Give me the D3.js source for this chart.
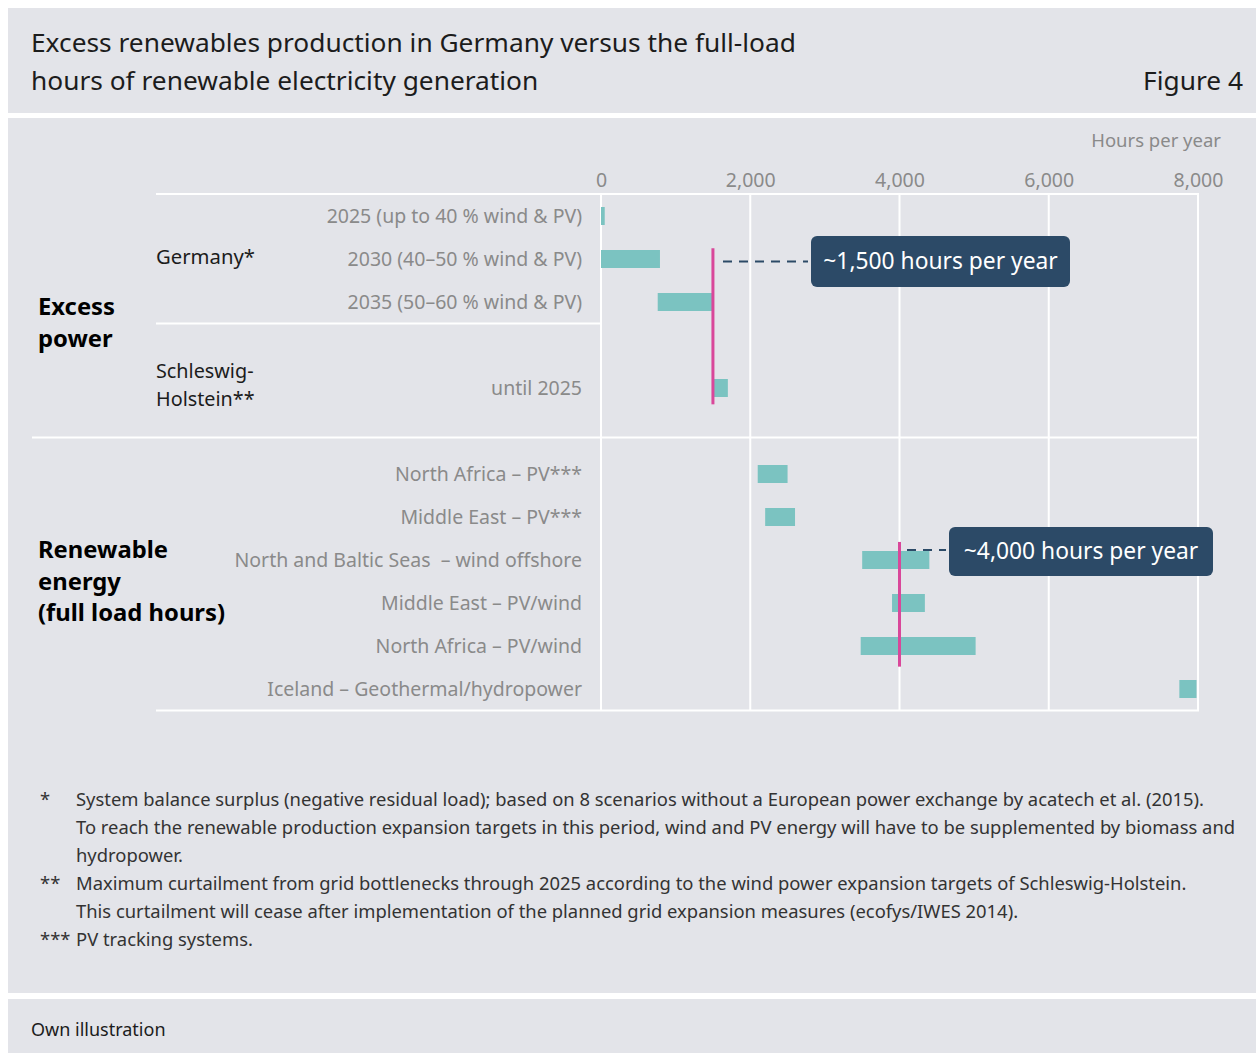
<!DOCTYPE html>
<html>
<head>
<meta charset="utf-8">
<script src="https://cdn.jsdelivr.net/npm/d3@7"></script>
<style>
  body { margin: 0; background: #fff; }
  svg { display: block; font-family: "Noto Sans", Roboto, sans-serif; }
</style>
</head>
<body>
<script>
// data
let rowLabels = [
  '2025 (up to 40 % wind & PV)',
  '2030 (40\u201350 % wind & PV)',
  '2035 (50\u201360 % wind & PV)',
  'until 2025',
  'North Africa \u2013 PV***',
  'Middle East \u2013 PV***',
  'North and Baltic Seas  \u2013 wind offshore',
  'Middle East \u2013 PV/wind',
  'North Africa \u2013 PV/wind',
  'Iceland \u2013 Geothermal/hydropower'
];
let rowSlots = [0, 1, 2, 4, 6, 7, 8, 9, 10, 11];
let barStart = [0, 0, 760, 1500, 2100, 2200, 3500, 3900, 3480, 7750];
let barEnd = [50, 790, 1500, 1700, 2500, 2600, 4400, 4340, 5020, 7980];
let tickValues = [0, 2000, 4000, 6000, 8000];
let markValues = [1500, 4000];
let markLabels = ['~1,500 hours per year', '~4,000 hours per year'];

let footMarks = ['*', '', '', '**', '', '***'];
let footLines = [
  'System balance surplus (negative residual load); based on 8 scenarios without a European power exchange by acatech et al. (2015).',
  'To reach the renewable production expansion targets in this period, wind and PV energy will have to be supplemented by biomass and',
  'hydropower.',
  'Maximum curtailment from grid bottlenecks through 2025 according to the wind power expansion targets of Schleswig-Holstein.',
  'This curtailment will cease after implementation of the planned grid expansion measures (ecofys/IWES 2014).',
  'PV tracking systems.'
];

let W = 1256, H = 1053;
let panel = '#e3e4e9', teal = '#7bc3c1', magenta = '#d9479a', navy = '#2c4a67';
let grey = '#8a8a8a', dark = '#1c1c1c';

let svg = d3.select('body').append('svg')
    .attr('width', W)
    .attr('height', H);

// panels
svg.append('rect').attr('x', 8).attr('y', 8).attr('width', W - 8).attr('height', 105).attr('fill', panel);
svg.append('rect').attr('x', 8).attr('y', 118).attr('width', W - 8).attr('height', 875).attr('fill', panel);
svg.append('rect').attr('x', 8).attr('y', 999).attr('width', W - 8).attr('height', 60).attr('fill', panel);

// title
svg.append('text').attr('x', 31).attr('y', 52).attr('font-size', 26.3).attr('fill', dark)
    .text('Excess renewables production in Germany versus the full-load');
svg.append('text').attr('x', 31).attr('y', 90).attr('font-size', 26.3).attr('fill', dark)
    .text('hours of renewable electricity generation');
svg.append('text').attr('x', 1243).attr('y', 90).attr('font-size', 26.3).attr('fill', dark)
    .attr('text-anchor', 'end').text('Figure 4');

let x = d3.scaleLinear().domain([0, 8000]).range([601, 1198]);
let y = d3.scaleLinear().domain([0, 1]).range([216, 259]);  // slot -> centre

let yTop = y(-0.51), yBottom = y(11.5);
let barH = 18;

// grid
svg.append('g').selectAll('line')
  .data(tickValues)
  .join('line')
    .attr('x1', d => x(d)).attr('x2', d => x(d))
    .attr('y1', yTop).attr('y2', yBottom)
    .attr('stroke', '#fff').attr('stroke-width', 2);

svg.append('line').attr('x1', 156).attr('x2', x(8000) + 1).attr('y1', yTop).attr('y2', yTop)
    .attr('stroke', '#fff').attr('stroke-width', 2);
svg.append('line').attr('x1', 156).attr('x2', x(8000) + 1).attr('y1', yBottom).attr('y2', yBottom)
    .attr('stroke', '#fff').attr('stroke-width', 2);
svg.append('line').attr('x1', 156).attr('x2', x(0)).attr('y1', y(2.5)).attr('y2', y(2.5))
    .attr('stroke', '#fff').attr('stroke-width', 2);
svg.append('line').attr('x1', 32).attr('x2', x(8000) + 1).attr('y1', y(5.15)).attr('y2', y(5.15))
    .attr('stroke', '#fff').attr('stroke-width', 2);

// axis
let axis = svg.append('g')
    .attr('transform', `translate(0,${yTop})`)
    .call(d3.axisTop(x).tickValues(tickValues).tickFormat(d3.format(',')).tickSize(0).tickPadding(7));
axis.select('.domain').remove();
axis.attr('font-family', null);
axis.selectAll('text').attr('font-size', 19.5).attr('fill', grey);

svg.append('text').attr('x', 1221).attr('y', 147).attr('font-size', 18.5).attr('fill', grey)
    .attr('text-anchor', 'end').text('Hours per year');

// row labels
svg.append('g').selectAll('text')
  .data(rowLabels)
  .join('text')
    .attr('x', 582)
    .attr('y', (d, i) => y(rowSlots[i]))
    .attr('dy', '0.35em')
    .attr('text-anchor', 'end')
    .attr('font-size', 19.5)
    .attr('fill', grey)
    .style('white-space', 'pre')
    .text(d => d);

// group and section labels
function multiLine(lines, x0, y0, step, size, weight, fill) {
  lines.forEach((t, i) => {
    svg.append('text').attr('x', x0).attr('y', y0 + i * step)
        .attr('font-size', size).attr('font-weight', weight).attr('fill', fill).text(t);
  });
}
multiLine(['Germany*'], 156, y(1) + 5, 0, 20.3, 'normal', dark);
multiLine(['Schleswig-', 'Holstein**'], 156, y(4) - 10, 27.5, 19.8, 'normal', dark);
multiLine(['Excess', 'power'], 38, 315, 31.5, 23.8, 'bold', '#000');
multiLine(['Renewable', 'energy', '(full load hours)'], 38, 558, 31.5, 23.8, 'bold', '#000');

// bars
svg.append('g').selectAll('rect')
  .data(rowLabels)
  .join('rect')
    .attr('x', (d, i) => x(barStart[i]))
    .attr('y', (d, i) => y(rowSlots[i]) - barH / 2)
    .attr('width', (d, i) => x(barEnd[i]) - x(barStart[i]))
    .attr('height', barH)
    .attr('fill', teal);

// marker lines
let markSpan = [[0.75, 4.38], [7.58, 10.48]];
svg.append('g').selectAll('line')
  .data(markValues)
  .join('line')
    .attr('x1', d => x(d)).attr('x2', d => x(d))
    .attr('y1', (d, i) => y(markSpan[i][0]))
    .attr('y2', (d, i) => y(markSpan[i][1]))
    .attr('stroke', magenta).attr('stroke-width', 3);

// callouts
let boxes = [
  {x: 811, y: 236, w: 259, h: 51, cy: 261.5, lx: 723},
  {x: 949, y: 527, w: 264, h: 49, cy: 550, lx: 907}
];
boxes.forEach((b, i) => {
  svg.append('line').attr('x1', b.lx).attr('x2', b.x - 3).attr('y1', b.cy).attr('y2', b.cy)
      .attr('stroke', navy).attr('stroke-width', 2).attr('stroke-dasharray', '9,7');
  svg.append('rect').attr('x', b.x).attr('y', b.y).attr('width', b.w).attr('height', b.h)
      .attr('rx', 6).attr('fill', navy);
  svg.append('text').attr('x', b.x + b.w / 2).attr('y', b.y + b.h / 2).attr('dy', '0.35em')
      .attr('text-anchor', 'middle').attr('font-size', 22.8).attr('fill', '#fff')
      .text(markLabels[i]);
});

// footnotes
let foot = svg.append('g');
footLines.forEach((t, i) => {
  let fy = 806 + i * 28;
  foot.append('text').attr('x', 40).attr('y', fy).attr('font-size', 18.4).attr('fill', '#333').text(footMarks[i]);
  foot.append('text').attr('x', 76).attr('y', fy).attr('font-size', 18.4).attr('fill', '#333').text(t);
});

svg.append('text').attr('x', 31).attr('y', 1036).attr('font-size', 18).attr('fill', dark).text('Own illustration');
</script>
</body>
</html>
